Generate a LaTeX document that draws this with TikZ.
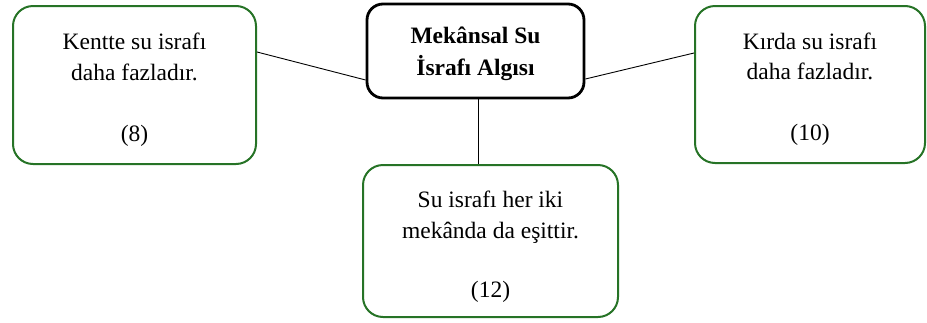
\documentclass[tikz,border=0pt]{standalone}
\usepackage{fontspec}
\setmainfont{Liberation Serif}
\definecolor{boxgreen}{RGB}{38,115,38}
\begin{document}
\begin{tikzpicture}[x=1pt,y=-1pt,
  answer/.style={draw=boxgreen,line width=2pt,rounded corners=20pt,inner sep=0pt},
  answertext/.style={inner sep=0pt,align=center,font=\fontsize{23.5}{30.5}\selectfont},
  topic/.style={draw=black,line width=2.8pt,rounded corners=16pt,inner sep=0pt},
  topictext/.style={inner sep=0pt,align=center,font=\fontsize{23.5}{32}\selectfont\bfseries},
  link/.style={draw=black,line width=0.9pt}]
\useasboundingbox (0,0) rectangle (927,322);

% central topic
\node[topic,minimum width=217pt,minimum height=94pt] (topic) at (475.5,51) {};
\node[topictext] (topicT) at ([yshift=-3pt]topic.center) {Mekânsal Su\\İsrafı Algısı};

% three answers with their counts
\node[answer,minimum width=243pt,minimum height=158pt] (city) at (134.5,85) {};
\node[answertext] (cityT) at ([yshift=-4.5pt]city.center)
  {Kentte su israfı\\daha fazladır.\\[30.5pt](8)};
\node[answer,minimum width=230pt,minimum height=157pt] (rural) at (810,84.5) {};
\node[answertext] (ruralT) at ([yshift=-4.5pt]rural.center)
  {Kırda su israfı\\daha fazladır.\\[30.5pt](10)};
\node[answer,minimum width=255pt,minimum height=152pt] (equal) at (490.5,241) {};
\node[answertext] (equalT) at ([yshift=-6pt]equal.center)
  {Su israfı her iki\\mekânda da eşittir.\\[29pt](12)};

% connector end points on the box borders
\coordinate (cityR) at (city.east |- 0,52);
\coordinate (topicL) at (topic.west |- 0,80);
\coordinate (topicR) at (topic.east |- 0,79);
\coordinate (ruralL) at (rural.west |- 0,53);
\coordinate (topicB) at (478,0 |- topic.south);
\coordinate (equalTop) at (478,0 |- equal.north);

\draw[link] (cityR) -- (topicL);
\draw[link] (topicR) -- (ruralL);
\draw[link] (topicB) -- (equalTop);
\end{tikzpicture}
\end{document}
